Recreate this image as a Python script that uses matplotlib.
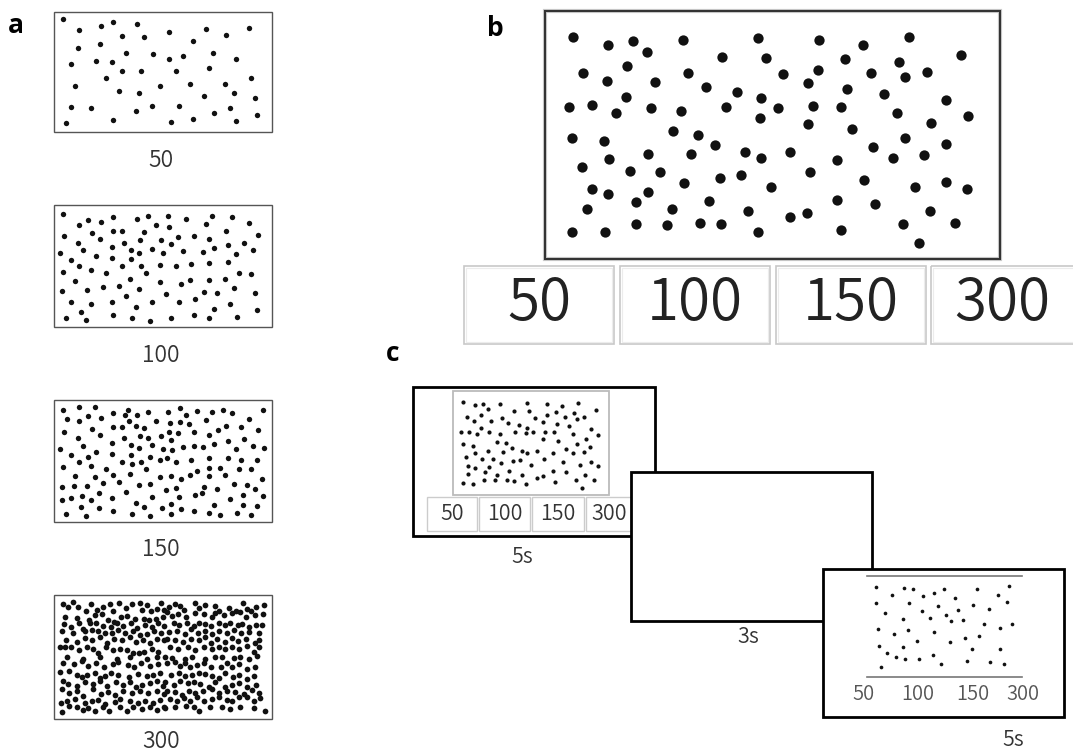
import matplotlib
matplotlib.use('AGG')
import matplotlib.pyplot as plt
from matplotlib.patches import Rectangle

W, H = 1073, 753

# dot counts shown as response options / panel labels
counts = ['50', '100', '150', '300']

# dot positions (image pixel units)
dots_a50 = [(63,19),(79,30),(101,26),(113,22),(137,24),(122,36),(144,37),(169,32),(193,41),(206,29),
            (226,35),(249,28),(78,48),(100,44),(126,53),(153,54),(169,59),(183,56),(213,53),(236,59),
            (71,64),(96,61),(112,62),(122,71),(141,71),(176,71),(209,68),(106,78),(251,78),(75,86),
            (119,91),(139,93),(160,86),(190,84),(225,84),(234,93),(204,96),(255,98),(71,107),(91,108),
            (152,106),(179,106),(136,111),(230,108),(214,113),(257,115),(66,123),(113,120),(171,122),
            (193,119),(236,121)]

dots_a100 = [(63,214),(79,225),(88,220),(101,222),(113,217),(137,219),(148,216),(168,216),(186,219),
             (212,216),(232,217),(249,223),(156,225),(169,227),(206,224),(64,236),(92,233),(113,231),
             (122,231),(144,232),(178,237),(194,236),(226,231),(258,235),(78,243),(100,239),(124,243),
             (140,240),(161,240),(171,244),(209,239),(244,243),(228,245),(83,250),(112,247),(131,250),
             (139,253),(152,249),(163,253),(183,251),(203,252),(214,248),(236,254),(253,250),(60,253),
             (71,260),(96,256),(112,258),(131,259),(79,266),(122,266),(141,266),(160,265),(176,266),
             (191,264),(209,263),(228,262),(63,272),(91,270),(106,273),(146,273),(239,273),(251,274),
             (75,281),(130,279),(160,282),(181,284),(190,280),(209,280),(225,279),(62,291),(87,290),
             (103,287),(119,286),(139,289),(166,294),(204,292),(217,293),(234,288),(255,293),(126,296),
             (71,302),(91,304),(112,302),(152,302),(179,302),(195,299),(230,304),(136,307),(214,309),
             (257,310),(81,312),(66,318),(86,320),(113,315),(132,318),(150,321),(171,318),(194,315),
             (209,318),(237,317)]

dots_a150 = [(63,410),(79,407),(95,407),(113,413),(125,415),(128,410),(137,415),(148,412),(168,412),
             (180,408),(186,415),(197,411),(212,412),(223,410),(232,413),(263,410),(67,419),(79,421),
             (88,416),(101,418),(129,421),(156,421),(170,423),(180,422),(189,424),(206,420),(249,419),
             (64,432),(92,429),(113,427),(122,427),(136,426),(144,428),(169,432),(178,433),(194,432),
             (218,430),(226,426),(241,427),(258,430),(78,438),(100,435),(124,438),(140,436),(148,438),
             (161,436),(171,440),(209,435),(228,441),(244,439),(83,446),(112,443),(131,445),(139,448),
             (152,445),(163,449),(172,450),(183,447),(194,446),(203,447),(214,444),(236,449),(253,446),
             (264,448),(60,449),(71,455),(88,457),(96,452),(112,454),(131,455),(150,457),(167,458),
             (79,462),(122,462),(132,464),(141,462),(160,460),(176,462),(191,460),(209,458),(228,458),
             (241,460),(257,460),(63,467),(91,466),(106,469),(146,469),(197,471),(209,468),(220,468),
             (239,469),(251,469),(75,476),(95,477),(113,475),(130,474),(160,477),(171,476),(181,479),
             (190,475),(209,476),(225,475),(262,479),(62,487),(74,486),(87,486),(103,483),(119,482),
             (139,485),(150,484),(166,490),(176,488),(204,487),(217,489),(234,484),(247,485),(255,489),
             (99,493),(126,492),(195,495),(202,493),(243,495),(263,496),(62,500),(71,498),(82,496),
             (91,500),(112,498),(152,497),(179,497),(230,499),(136,503),(171,504),(214,505),(243,505),
             (257,506),(81,507),(99,508),(113,511),(144,507),(162,508),(181,509),(194,511),(66,514),
             (86,516),(132,514),(150,516),(171,514),(209,513),(220,515),(237,513),(251,515)]

# 300-dot stimulus, read in four zoomed quadrants (origin, points at 3x)
a300_quadrants = [
    ((50, 590), [(38,42),(55,50),(69,36),(84,50),(108,62),(123,41),(140,60),(158,52),(181,43),(190,62),
                 (206,38),(228,54),(247,41),(269,40),(275,60),(291,46),(302,64),(320,56),(333,39),(343,60),
                 (45,80),(80,83),(118,91),(135,76),(157,72),(174,90),(191,95),(212,80),(232,78),(256,87),
                 (282,88),(297,90),(318,87),(338,80),(42,102),(64,110),(86,100),(100,118),(120,100),(137,98),
                 (160,108),(182,110),(200,100),(220,108),(243,100),(262,113),(285,105),(305,110),(325,98),
                 (342,107),(35,124),(68,130),(105,122),(127,120),(145,124),(165,130),(185,128),(205,121),
                 (225,130),(250,124),(270,135),(290,132),(312,122),(333,128),(48,150),(82,157),(105,144),
                 (125,150),(150,141),(172,158),(192,146),(215,150),(240,140),(258,155),(280,150),(300,160),
                 (320,146),(342,150),(30,172),(45,172),(62,170),(87,180),(110,172),(128,178),(145,190),
                 (168,172),(190,180),(210,176),(232,180),(250,190),(268,188),(282,186),(305,178),(325,185)]),
    ((162, 590), [(20,50),(38,42),(55,47),(66,60),(100,40),(110,55),(128,44),(160,48),(170,62),(200,55),
                  (222,62),(242,40),(255,58),(282,50),(305,44),(15,65),(30,78),(48,72),(72,80),(100,70),
                  (125,72),(150,80),(160,70),(185,75),(210,70),(235,66),(252,80),(268,62),(280,74),(303,72),
                  (35,100),(52,105),(75,98),(95,108),(112,98),(130,102),(148,108),(170,100),(190,105),
                  (205,98),(228,104),(240,102),(262,110),(282,104),(300,106),(20,125),(45,122),(68,132),
                  (88,118),(108,128),(130,124),(150,132),(170,122),(195,130),(215,120),(238,128),(262,125),
                  (290,128),(15,148),(38,150),(62,155),(88,146),(110,150),(130,140),(148,158),(165,148),
                  (188,155),(210,145),(228,152),(252,148),(278,160),(290,150),(25,172),(48,176),(78,170),
                  (100,180),(125,172),(150,178),(170,170),(190,178),(210,172),(232,178),(255,168),(275,185),
                  (290,172)]),
    ((50, 654), [(50,10),(80,2),(100,14),(125,5),(150,10),(175,2),(200,14),(225,2),(240,10),(270,5),
                 (290,14),(320,8),(340,2),(38,26),(72,30),(95,22),(115,35),(138,28),(162,38),(188,30),
                 (205,25),(235,34),(252,40),(272,28),(300,36),(325,30),(345,22),(30,55),(58,52),(80,62),
                 (95,68),(110,62),(135,56),(150,72),(165,65),(182,58),(205,62),(238,68),(265,60),(290,66),
                 (310,64),(330,58),(38,80),(55,90),(80,95),(105,84),(130,90),(150,80),(170,95),(198,84),
                 (218,92),(240,85),(258,98),(275,92),(300,88),(320,82),(340,96),(35,105),(58,118),(80,112),
                 (100,125),(128,106),(152,120),(175,114),(195,122),(220,110),(245,118),(270,110),(295,118),
                 (320,112),(342,120),(32,148),(50,140),(75,135),(105,148),(125,140),(145,138),(165,150),
                 (195,145),(210,135),(240,140),(265,148),(285,140),(310,148),(330,138),(35,175),(58,155),
                 (80,158),(100,168),(115,162),(135,172),(160,158),(178,170),(210,160),(230,170),(250,158),
                 (275,165),(300,158),(320,168),(342,160)]),
    ((162, 654), [(10,8),(30,12),(50,5),(70,14),(90,10),(110,4),(130,14),(160,8),(180,10),(200,4),
                  (215,12),(235,8),(260,14),(285,6),(15,28),(38,25),(55,35),(70,28),(85,40),(105,32),
                  (125,28),(148,40),(178,38),(195,28),(210,38),(230,30),(255,44),(280,38),(5,55),(28,62),
                  (50,58),(68,65),(90,62),(110,58),(128,60),(150,66),(172,72),(190,58),(212,70),(230,62),
                  (255,75),(275,65),(10,85),(35,92),(55,82),(78,88),(95,85),(115,90),(140,98),(160,85),
                  (190,100),(210,92),(232,88),(255,100),(282,92),(15,110),(40,115),(60,122),(80,110),
                  (100,118),(122,112),(150,106),(172,118),(195,112),(220,115),(245,120),(270,108),
                  (290,118),(25,135),(45,142),(65,132),(85,140),(105,130),(125,140),(150,135),(170,130),
                  (195,138),(210,140),(230,130),(255,128),(275,140),(295,132),(10,162),(40,160),(72,155),
                  (95,160),(110,172),(145,158),(180,160),(205,165),(235,158),(275,162),(310,172)]),
]

dots_b = [(573,37),(608,45),(633,41),(647,52),(683,40),(722,57),(758,38),(766,58),(583,73),(627,66),
          (607,81),(655,82),(688,73),(706,87),(737,92),(761,98),(569,107),(592,105),(616,113),(626,97),
          (651,108),(681,111),(726,107),(760,118),(778,108),(783,74),(572,138),(604,141),(673,131),
          (698,135),(715,145),(609,159),(648,154),(691,154),(745,152),(761,158),(582,167),(630,171),
          (660,172),(684,183),(720,178),(741,175),(771,187),(592,189),(608,194),(648,192),(636,202),
          (587,209),(672,209),(709,201),(748,211),(572,232),(605,232),(636,224),(667,225),(700,223),
          (721,224),(758,232),(819,40),(863,45),(909,37),(961,55),(845,59),(899,62),(818,70),(871,73),
          (905,77),(927,72),(808,83),(847,89),(884,94),(946,100),(813,106),(841,107),(897,113),(968,116),
          (808,124),(852,129),(931,123),(905,138),(946,144),(790,152),(873,147),(837,160),(893,158),
          (924,155),(810,172),(864,180),(915,187),(946,182),(967,189),(837,200),(875,204),(930,211),
          (790,217),(807,213),(841,230),(903,224),(955,223),(919,243)]

dots_c1 = [(463,402),(475,405),(483,404),(488,409),(500,404),(514,411),(527,403),(529,411),(547,404),
           (556,412),(562,406),(578,403),(574,413),(596,410),(467,417),(481,415),(474,421),(491,421),
           (502,418),(535,418),(547,415),(543,422),(565,417),(577,419),(584,417),(508,423),(519,425),
           (557,424),(569,426),(481,428),(461,432),(469,432),(477,434),(489,432),(500,434),(515,432),
           (527,428),(526,433),(533,432),(545,432),(554,432),(573,434),(591,429),(598,435),(497,442),
           (506,443),(543,439),(558,441),(586,439),(463,444),(473,446),(512,448),(566,449),(577,444),
           (590,447),(466,457),(475,453),(488,451),(482,459),(493,459),(503,452),(522,451),(527,453),
           (537,451),(553,453),(573,453),(584,452),(513,461),(520,460),(501,463),(544,459),(563,462),
           (468,466),(475,468),(489,467),(531,465),(580,465),(591,462),(598,466),(485,472),(509,471),
           (553,471),(566,472),(468,474),(497,475),(522,475),(585,475),(484,480),(495,480),(507,480),
           (514,481),(463,483),(473,484),(526,484),(537,478),(543,476),(555,482),(576,480),(594,480),
           (582,488)]

dots_c3 = [(876,587),(892,595),(904,588),(913,589),(923,596),(934,593),(944,589),(955,598),(977,589),
           (998,595),(1009,586),(876,603),(909,603),(938,606),(973,605),(1007,602),(885,613),(922,611),
           (958,610),(989,609),(930,618),(946,615),(903,619),(951,621),(963,620),(984,624),(1012,624),
           (878,629),(908,630),(1000,628),(894,634),(934,632),(965,638),(979,636),(917,641),(950,642),
           (879,646),(903,647),(972,649),(1000,649),(887,653),(933,655),(896,657),(905,659),(919,659),
           (967,661),(990,662),(1004,664),(941,664),(881,667)]

durations = ['5s', '3s', '5s']

# convert the quadrant readings of the 300 stimulus
dots_a300 = []
for (ox, oy), pts in a300_quadrants:
    for zx, zy in pts:
        x, y = ox + zx / 3.0, oy + zy / 3.0
        if (ox == 50 and x >= 165) or (ox == 162 and x < 165):
            continue
        if (oy == 590 and y >= 656) or (oy == 654 and y < 656):
            continue
        dots_a300.append((x, y))

num_font = ['Noto Sans CJK JP', 'DejaVu Sans']
num_weight = 350
letter_font = ['Open Sans', 'DejaVu Sans']

fig = plt.figure(figsize=(W / 100.0, H / 100.0), dpi=100)
ax = fig.add_axes([0, 0, 1, 1])
ax.set_xlim(0, W)
ax.set_ylim(H, 0)
ax.axis('off')


def box(x0, y0, x1, y1, ec='k', lw=1.0, fc='none', z=1):
    ax.add_patch(Rectangle((x0, y0), x1 - x0, y1 - y0, fc=fc, ec=ec, lw=lw, zorder=z))


def dots(pts, size, z=2):
    xs = [p[0] for p in pts]
    ys = [p[1] for p in pts]
    ax.scatter(xs, ys, s=size, c='#111111', linewidths=0, zorder=z)


# ---- panel a ----
a_boxes = [(54, 12, 272, 132), (54, 205, 272, 327), (54, 400, 272, 522), (54, 595, 272, 719)]
a_dots = [dots_a50, dots_a100, dots_a150, dots_a300]
a_label_y = [160, 355, 550, 742]
for (x0, y0, x1, y1), pts, ly, lab in zip(a_boxes, a_dots, a_label_y, counts):
    box(x0, y0, x1, y1, ec='#555555', lw=1.0)
    dots(pts, 15 if pts is not dots_a300 else 17)
    ax.text(161, ly, lab, ha='center', va='center', fontsize=16.5, color='#333333',
            family=num_font, fontweight=num_weight)
ax.text(16, 25, 'a', ha='center', va='center', fontsize=19, fontweight='bold', family=letter_font)

# ---- panel b ----
box(545, 11, 1000, 259, ec='#cccccc', lw=3.0)
box(545, 11, 1000, 259, ec='#333333', lw=1.5)
dots(dots_b, 55)
b_btn_x = [(464, 614), (620, 770), (776, 926), (931, 1085)]
b_txt_x = [539, 695, 851, 1002]
for (x0, x1), tx, lab in zip(b_btn_x, b_txt_x, counts):
    box(x0, 266, x1, 344, ec='#c8c8c8', lw=1.2)
    box(x0 + 2, 268, x1 - 2, 342, ec='#ececec', lw=0.8)
    ax.text(tx, 304, lab, ha='center', va='center', fontsize=42, color='#222222',
            family=num_font, fontweight=num_weight)
ax.text(495, 28, 'b', ha='center', va='center', fontsize=19, fontweight='bold', family=letter_font)

# ---- panel c ----
ax.text(393, 353, 'c', ha='center', va='center', fontsize=19, fontweight='bold', family=letter_font)

# first screen: stimulus with response buttons
box(413, 387, 655, 536, ec='black', lw=2.0, fc='white', z=1)
box(453, 391, 609, 495, ec='#bbbbbb', lw=1.3, z=2)
dots(dots_c1, 9, z=3)
c_btn_x = [(427, 477), (479, 530), (532, 584), (586, 645)]
c_txt_x = [452, 504.5, 558, 609]
for (x0, x1), tx, lab in zip(c_btn_x, c_txt_x, counts):
    box(x0, 497, x1, 531, ec='#cccccc', lw=1.0, z=2)
    ax.text(tx, 514, lab, ha='center', va='center', fontsize=15.5, color='#333333',
            family=num_font, fontweight=num_weight, zorder=3)

# second screen: blank
box(631, 472, 872, 621, ec='black', lw=2.0, fc='white', z=4)

# third screen: stimulus with number line
box(823, 569, 1064, 717, ec='black', lw=2.0, fc='white', z=5)
ax.plot([867, 1022], [576, 576], color='#777777', lw=1.2, zorder=6)
ax.plot([867, 1022], [677, 677], color='#777777', lw=1.2, zorder=6)
dots(dots_c3, 7, z=6)
for tx, lab in zip([863, 918, 973, 1023], counts):
    ax.text(tx, 695, lab, ha='center', va='center', fontsize=14.5, color='#555555',
            family=num_font, fontweight=num_weight, zorder=6)

for (tx, ty), lab in zip([(522, 557), (748, 637), (1013, 740)], durations):
    ax.text(tx, ty, lab, ha='center', va='center', fontsize=15.5, color='#333333',
            family=num_font, fontweight=num_weight)

plt.savefig('out.png', dpi=100)
